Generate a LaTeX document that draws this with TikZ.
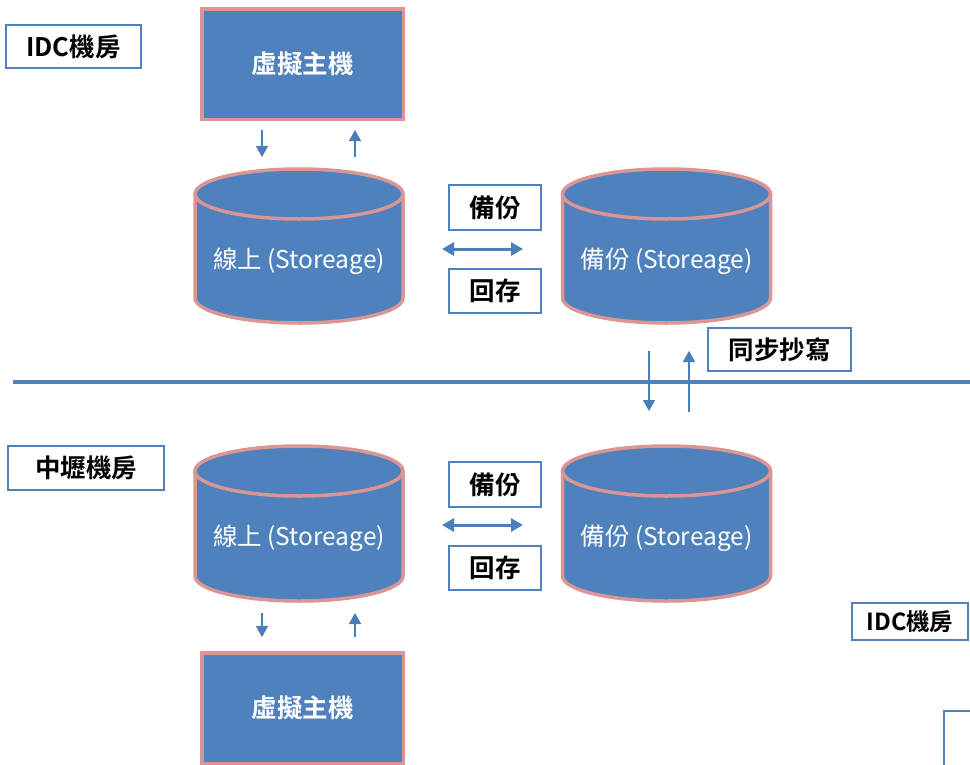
\documentclass[tikz,border=0pt]{standalone}
\usepackage{fontspec}
\setmainfont{Noto Sans CJK TC}[BoldFont={Noto Sans CJK TC Bold}]
\usetikzlibrary{arrows.meta}
\definecolor{bluefill}{HTML}{4F81BD}
\definecolor{pinkline}{HTML}{D99694}
\definecolor{arrowblue}{HTML}{4A7EBB}
\tikzset{
  labelbox/.style={draw=bluefill, line width=1.6pt, fill=white, inner sep=0pt, text=black,
    font=\bfseries\fontsize{25.5}{29}\selectfont},
  vmbox/.style={draw=pinkline, fill=bluefill, line width=3.5pt, minimum width=201.5pt,
    minimum height=110.5pt, inner sep=0pt, text=white, font=\bfseries\fontsize{25.5}{29}\selectfont},
  cyltext/.style={text=white, inner sep=0pt, font=\fontsize{24.5}{28}\selectfont},
  cylline/.style={draw=pinkline, line width=3.5pt},
  smallarrow/.style={draw=arrowblue, line width=1.4pt, -{Triangle[width=12pt,length=11pt]}},
  dblarrow/.style={draw=arrowblue, line width=3pt,
    {Triangle[width=13pt,length=12pt]}-{Triangle[width=13pt,length=12pt]}},
  divider/.style={draw=bluefill, line width=4pt},
}
\newcommand\drawcyl[3]{%
  \fill[bluefill] (#1-104,#2) -- (#1-104,#3) arc[start angle=180,end angle=360,x radius=104pt,y radius=25pt] -- (#1+104,#2) -- cycle;
  \draw[cylline] (#1-104,#2) -- (#1-104,#3) arc[start angle=180,end angle=360,x radius=104pt,y radius=25pt] -- (#1+104,#2);
  \filldraw[cylline, fill=bluefill] (#1,#2) ellipse [x radius=104pt, y radius=25pt];
}
\begin{document}
\begin{tikzpicture}[x=1pt,y=-1pt]
\useasboundingbox (0,0) rectangle (970,764);
\clip (0,0) rectangle (970,764);
\fill[white] (0,0) rectangle (970,764);

% upper section
\node[labelbox, minimum width=135pt, minimum height=43pt] (idcTop) at (73.5,46.5) {IDC機房};
\node[vmbox] (vmTop) at (302.5,64) {虛擬主機};
\drawcyl{299}{194}{298}
\node[cyltext] (onlineTop) at (299,261) {線上 (Storeage)};
\drawcyl{666.5}{194}{298}
\node[cyltext] (backupTop) at (666.5,261) {備份 (Storeage)};
\node[labelbox, minimum width=92pt, minimum height=45pt] (bkTop) at (495,207.5) {備份};
\node[labelbox, minimum width=92pt, minimum height=44pt] (rsTop) at (495,291) {回存};
\coordinate (dA1) at (442,249); \coordinate (dA2) at (523,249);
\draw[dblarrow] (dA1) -- (dA2);
\coordinate (tD1) at (262,130); \coordinate (tD2) at (262,157);
\coordinate (tU1) at (355,157); \coordinate (tU2) at (355,130);
\draw[smallarrow] (tD1) -- (tD2);
\draw[smallarrow] (tU1) -- (tU2);

% divider and sync
\coordinate (lineL) at (13,382); \coordinate (lineR) at (975,382);
\draw[divider] (lineL) -- (lineR);
\node[labelbox, minimum width=143pt, minimum height=43pt] (sync) at (779.5,349.5) {同步抄寫};
\coordinate (sD1) at (649,351); \coordinate (sD2) at (649,411);
\coordinate (sU1) at (689,412); \coordinate (sU2) at (689,351);
\draw[smallarrow] (sD1) -- (sD2);
\draw[smallarrow] (sU1) -- (sU2);

% lower section
\node[labelbox, minimum width=156pt, minimum height=44pt] (zl) at (86,468) {中壢機房};
\drawcyl{299}{471}{576}
\node[cyltext] (onlineBot) at (299,538) {線上 (Storeage)};
\drawcyl{666.5}{471}{576}
\node[cyltext] (backupBot) at (666.5,538) {備份 (Storeage)};
\node[labelbox, minimum width=92pt, minimum height=45pt] (bkBot) at (495,484.5) {備份};
\node[labelbox, minimum width=92pt, minimum height=44pt] (rsBot) at (495,568) {回存};
\coordinate (dB1) at (442,525); \coordinate (dB2) at (523,525);
\draw[dblarrow] (dB1) -- (dB2);
\coordinate (bD1) at (262,613); \coordinate (bD2) at (262,637);
\coordinate (bU1) at (355,637); \coordinate (bU2) at (355,613);
\draw[smallarrow] (bD1) -- (bD2);
\draw[smallarrow] (bU1) -- (bU2);
\node[vmbox] (vmBot) at (302.5,708) {虛擬主機};
\node[labelbox, minimum width=116pt, minimum height=37pt, font=\bfseries\fontsize{23.5}{27}\selectfont] (idcRight) at (910,621.5) {IDC機房};
\node[draw=bluefill, line width=1.2pt, minimum width=100pt, minimum height=100pt, inner sep=0pt] (partial) at (994,761) {};
\end{tikzpicture}
\end{document}
